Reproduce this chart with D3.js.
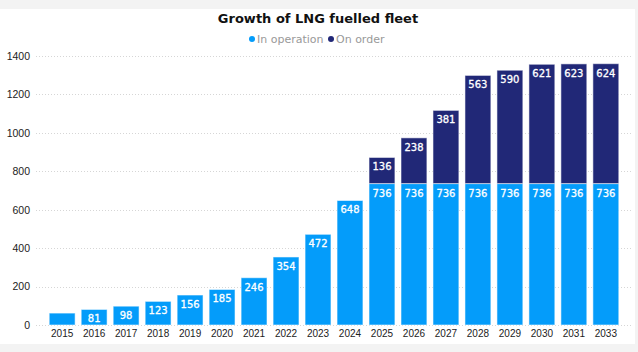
<!DOCTYPE html>
<html>
<head>
<meta charset="utf-8">
<script src="https://cdn.jsdelivr.net/npm/d3@7"></script>
<style>
  body { margin: 0; background: #f3f3f3; }
  svg { display: block; font-family: "DejaVu Sans", Verdana, sans-serif; }
</style>
</head>
<body>
<svg></svg>
<script>
// Dados do gráfico
const years = ["2015","2016","2017","2018","2019","2020","2021","2022","2023","2024","2025","2026","2027","2028","2029","2030","2031","2033"];
const inOperation = [62, 81, 98, 123, 156, 185, 246, 354, 472, 648, 736, 736, 736, 736, 736, 736, 736, 736];
const onOrder = [0, 0, 0, 0, 0, 0, 0, 0, 0, 0, 136, 238, 381, 563, 590, 621, 623, 624];
const yTicks = [0, 200, 400, 600, 800, 1000, 1200, 1400];
const seriesNames = ["In operation", "On order"];
const colors = ["#049cfa", "#212877"];

const width = 638, height = 352;

const svg = d3.select("svg")
  .attr("width", width)
  .attr("height", height);

// Cartão branco
svg.append("rect")
  .attr("x", 0).attr("y", 9)
  .attr("width", 635).attr("height", 335)
  .attr("fill", "white");

const x = d3.scaleBand()
  .domain(years)
  .range([46, 622])
  .paddingInner(0.19)
  .paddingOuter(0.1);

const y = d3.scaleLinear()
  .domain([0, 1400])
  .range([325, 56]);

// Linhas de grade
svg.append("g")
  .selectAll("line")
  .data(yTicks)
  .enter()
  .append("line")
  .attr("x1", 36).attr("x2", 632)
  .attr("y1", d => Math.round(y(d)) + 0.5)
  .attr("y2", d => Math.round(y(d)) + 0.5)
  .attr("stroke", "#d6d6d6")
  .attr("stroke-dasharray", "1,2");

// Eixo Y
const yAxis = svg.append("g")
  .attr("transform", "translate(30,0)")
  .call(d3.axisLeft(y).tickValues(yTicks).tickFormat(d3.format("d")).tickSize(0).tickPadding(0));
yAxis.select(".domain").remove();
yAxis.selectAll("text")
  .style("font-size", "10.5px")
  .attr("fill", "#222");

// Eixo X
const xAxis = svg.append("g")
  .attr("transform", "translate(0,327)")
  .call(d3.axisBottom(x).tickSize(0).tickPadding(3));
xAxis.select(".domain").remove();
xAxis.selectAll("text")
  .style("font-size", "10px")
  .attr("fill", "#222");

// Empilhar séries
const table = years.map((yr, i) => ({ year: yr, op: inOperation[i], order: onOrder[i] }));
const stacked = d3.stack().keys(["op", "order"])(table);

const layer = svg.append("g")
  .selectAll("g")
  .data(stacked)
  .enter()
  .append("g")
  .attr("fill", (d, i) => colors[i]);

layer.selectAll("rect")
  .data(d => d.filter(p => p[1] - p[0] > 0))
  .enter()
  .append("rect")
  .attr("x", d => x(d.data.year))
  .attr("y", d => y(d[1]))
  .attr("width", x.bandwidth())
  .attr("height", d => y(d[0]) - y(d[1]))
  .attr("stroke", "white")
  .attr("stroke-opacity", 0.55)
  .attr("stroke-width", 1);

// Rótulos de valores
layer.selectAll("text")
  .data(d => d.filter(p => p[1] - p[0] > 70))
  .enter()
  .append("text")
  .attr("x", d => x(d.data.year) + x.bandwidth() / 2)
  .attr("y", d => y(d[1]) + 13)
  .attr("text-anchor", "middle")
  .attr("fill", "white")
  .style("font-size", "10px")
  .style("font-weight", "500")
  .style("stroke", "white")
  .style("stroke-width", 0.3)
  .text(d => d[1] - d[0]);

// Título
svg.append("text")
  .attr("x", 318).attr("y", 23)
  .attr("text-anchor", "middle")
  .style("font-size", "13px")
  .style("font-weight", "bold")
  .attr("fill", "#111")
  .text("Growth of LNG fuelled fleet");

// Legenda
const legend = svg.append("g");
const legendX = [252, 331];
seriesNames.forEach((name, i) => {
  legend.append("circle")
    .attr("cx", legendX[i]).attr("cy", 39)
    .attr("r", 3)
    .attr("fill", colors[i]);
  legend.append("text")
    .attr("x", legendX[i] + 5).attr("y", 43)
    .style("font-size", "11px")
    .attr("fill", "#999")
    .text(name);
});
</script>
</body>
</html>
